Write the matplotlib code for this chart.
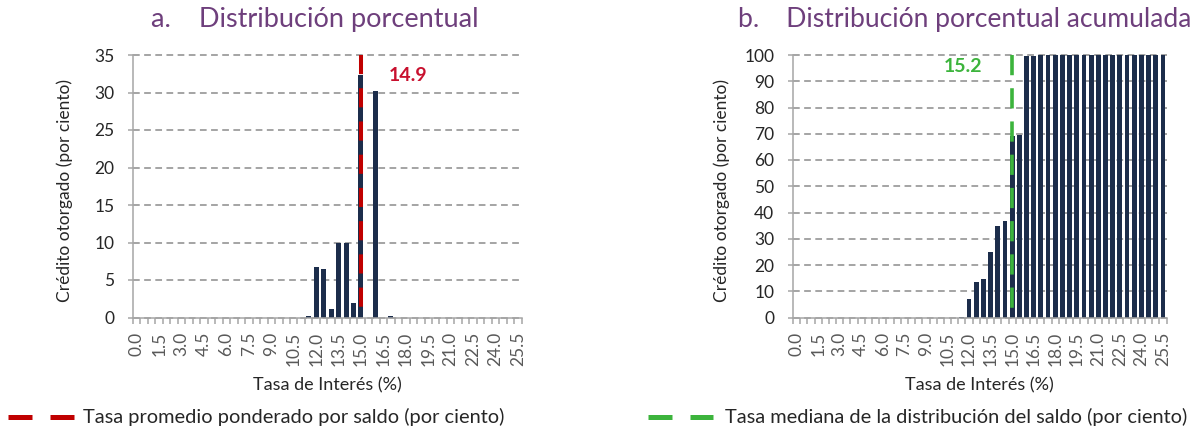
import numpy as np
import matplotlib
matplotlib.use("Agg")
import matplotlib.pyplot as plt
from matplotlib.lines import Line2D

plt.rcParams['font.family'] = ['Lato', 'DejaVu Sans']

# --- datos ---
tasas = [f"{0.5 * i:.1f}" for i in range(52)]   # 0.0 ... 25.5 (categorias)

distribucion = [0, 0, 0, 0, 0, 0, 0, 0, 0, 0,
                0, 0, 0, 0, 0, 0, 0, 0, 0, 0,
                0, 0, 0, 0.2, 6.8, 6.5, 1.2, 10.0, 9.9, 2.0,
                32.4, 0, 30.2, 0, 0.2, 0, 0, 0, 0, 0,
                0, 0, 0, 0, 0, 0, 0, 0, 0, 0,
                0, 0]

acumulada = [0, 0, 0, 0, 0, 0, 0, 0, 0, 0,
             0, 0, 0, 0, 0, 0, 0, 0, 0, 0,
             0, 0, 0, 0.2, 7.0, 13.5, 14.7, 24.8, 34.8, 36.9,
             69.3, 69.4, 99.7, 99.7, 100, 100, 100, 100, 100, 100,
             100, 100, 100, 100, 100, 100, 100, 100, 100, 100,
             100, 100]

tasa_promedio = 14.9
tasa_mediana = 15.2

NAVY = '#1C2D4B'
ROJO = '#C00000'
ROJO_TXT = '#C8102E'
VERDE = '#3CB43C'
MORADO = '#6E3F7C'
GRIS = '#A6A6A6'
TEXTO = '#262626'

W, H = 1193, 434
fig = plt.figure(figsize=(W / 100, H / 100), dpi=100)
renderer = fig.canvas.get_renderer()


def fx(px):
    return px / W


def fy(py):
    return 1 - py / H


def texto_ancho(x, y, s, ancho_px, **kw):
    """Texto ajustado a un ancho en pixeles."""
    t = fig.text(x, y, s, fontsize=12, **kw)
    w = t.get_window_extent(renderer).width
    t.set_fontsize(12 * ancho_px / w)
    return t


def panel(x0, x1, valores, ymax, ystep, linea_val, color_linea, lw_linea, dashes):
    ax = fig.add_axes([fx(x0), fy(317.5), fx(x1) - fx(x0), fy(55) - fy(317.5)])
    n = len(valores)
    pos = np.arange(n)
    ax.bar(pos, valores, width=0.67, color=NAVY, zorder=2)
    ax.set_xlim(-0.5, n - 0.5)
    ax.set_ylim(0, ymax)
    ax.set_yticks(np.arange(0, ymax + 1, ystep))
    ax.set_xticks(pos[::3])
    ax.set_xticklabels(tasas[::3], rotation=90, fontsize=12.5, color='#595959')
    ax.set_xticks(np.arange(-0.5, n, 1), minor=True)
    ax.tick_params(axis='x', which='major', length=0, pad=10)
    ax.tick_params(axis='x', which='minor', length=4, width=1.1, color=GRIS, direction='out')
    ax.tick_params(axis='y', length=7, width=1.1, color=GRIS, direction='inout',
                   labelsize=12.5, labelcolor=TEXTO, pad=10)
    for s in ['top', 'right']:
        ax.spines[s].set_visible(False)
    for s in ['left', 'bottom']:
        ax.spines[s].set_color(GRIS)
        ax.spines[s].set_linewidth(1.1)
    ax.set_axisbelow(True)
    ax.grid(axis='y', color='#8C8C8C', linewidth=1.1, linestyle=(0, (4.4, 2.9)))
    for gl in ax.get_ygridlines():
        gl.set_clip_on(False)
    # linea vertical (dibujada de arriba hacia abajo)
    xl = round(linea_val / 0.5)
    ax.plot([xl, xl], [ymax, 0], color=color_linea, lw=lw_linea,
            linestyle=(0, dashes), solid_capstyle='butt', dash_capstyle='butt',
            zorder=3, clip_on=False)
    return ax


ax1 = panel(133, 521.7, distribucion, 35, 5, tasa_promedio, ROJO, 2.9, (4.75, 3.5))
ax1.text(36.3, 32.2, f"{tasa_promedio:.1f}", color=ROJO_TXT, fontsize=14,
         fontweight='bold', ha='center', va='center')

ax2 = panel(793, 1166.6, acumulada, 100, 10, tasa_mediana, VERDE, 2.6, (5.6, 3.6))
ax2.text(23.2, 95.8, f"{tasa_mediana:.1f}", color=VERDE, fontsize=14,
         fontweight='bold', ha='center', va='center')

# titulos
texto_ancho(fx(314.5), fy(20), "a.    Distribución porcentual", 327,
            color=MORADO, ha='center', va='center')
texto_ancho(fx(738), fy(20), "b.    Distribución porcentual acumulada", 452,
            color=MORADO, ha='left', va='center')

# ejes
for xc in (327.4, 979.8):
    fig.text(fx(xc), fy(385), "Tasa de Interés (%)", fontsize=13, color=TEXTO,
             ha='center', va='center')
for xc in (65, 722):
    fig.text(fx(xc), fy(190), "Crédito otorgado (por ciento)", fontsize=12.5,
             color=TEXTO, rotation=90, ha='center', va='center')

# leyendas (mismo tamano de letra en ambas)
t_der = texto_ancho(fx(725), fy(417), "Tasa mediana de la distribución del saldo (por ciento)",
                    460, color=TEXTO, ha='left', va='center')
fig.text(fx(83), fy(417), "Tasa promedio ponderado por saldo (por ciento)",
         fontsize=t_der.get_fontsize(), color=TEXTO, ha='left', va='center')
for x0, x1, col in [(8, 74, ROJO), (648, 713, VERDE)]:
    fig.add_artist(Line2D([fx(x0), fx(x1)], [fy(416.5), fy(416.5)], color=col, lw=3.6,
                          linestyle=(0, (4.8, 3.6)), dash_capstyle='butt',
                          transform=fig.transFigure))

fig.savefig("out.png", dpi=100)
